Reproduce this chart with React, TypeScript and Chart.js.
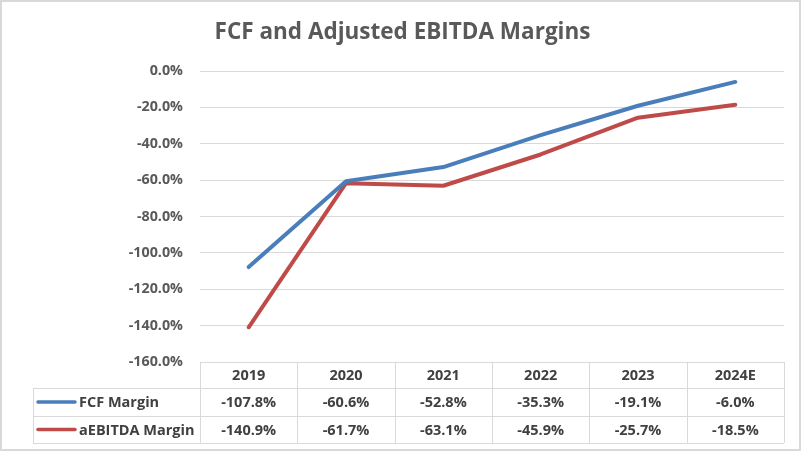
import React, { useEffect, useRef } from "react";
import { Chart, registerables } from "chart.js";

Chart.register(...registerables);

const categories = ["2019", "2020", "2021", "2022", "2023", "2024E"];
const fcfMargin = [-107.8, -60.6, -52.8, -35.3, -19.1, -6.0];
const ebitdaMargin = [-140.9, -61.7, -63.1, -45.9, -25.7, -18.5];
const seriesNames = ["FCF Margin", "aEBITDA Margin"];
const seriesColors = ["#4A7EBB", "#BE4B48"];
const titleText = "FCF and Adjusted EBITDA Margins";

const FONT = "'Open Sans', Lato, sans-serif";

const tablePlugin = {
  id: "dataTable",
  afterDraw(chart: any) {
    const ctx = chart.ctx;
    const area = chart.chartArea;
    const xs = chart.scales.x;
    const n = categories.length;
    const colW = (area.right - area.left) / n;
    const top = area.bottom;
    const r1 = top + 26;
    const r2 = r1 + 28;
    const r3 = r2 + 27;
    const legLeft = 33;
    ctx.save();
    ctx.strokeStyle = "#D9D9D9";
    ctx.lineWidth = 1;
    ctx.beginPath();
    ctx.moveTo(area.left, top + 0.5);
    ctx.lineTo(area.right, top + 0.5);
    [r1, r2, r3].forEach((y) => {
      ctx.moveTo(legLeft, Math.round(y) + 0.5);
      ctx.lineTo(area.right, Math.round(y) + 0.5);
    });
    for (let i = 0; i <= n; i++) {
      const x = Math.round(area.left + i * colW) + 0.5;
      ctx.moveTo(x, top);
      ctx.lineTo(x, r3);
    }
    ctx.moveTo(legLeft + 0.5, r1);
    ctx.lineTo(legLeft + 0.5, r3);
    ctx.stroke();

    ctx.fillStyle = "#404040";
    ctx.font = `bold 14.5px ${FONT}`;
    ctx.textAlign = "center";
    ctx.textBaseline = "middle";
    const rows = [fcfMargin, ebitdaMargin];
    categories.forEach((c, i) => {
      const cx = xs.getPixelForValue(i);
      ctx.fillText(c, cx, (top + r1) / 2 + 1);
      rows.forEach((arr, k) => {
        const y = k === 0 ? (r1 + r2) / 2 + 1 : (r2 + r3) / 2 + 1;
        ctx.fillText(arr[i].toFixed(1) + "%", cx, y);
      });
    });
    rows.forEach((_, k) => {
      const y = k === 0 ? (r1 + r2) / 2 : (r2 + r3) / 2;
      ctx.strokeStyle = seriesColors[k];
      ctx.lineWidth = 3.5;
      ctx.lineCap = "round";
      ctx.beginPath();
      ctx.moveTo(38, y);
      ctx.lineTo(75, y);
      ctx.stroke();
      ctx.textAlign = "left";
      ctx.fillStyle = "#404040";
      ctx.fillText(seriesNames[k], 79, y + 1);
    });
    ctx.restore();
  },
};

const borderPlugin = {
  id: "outerBorder",
  beforeDraw(chart: any) {
    const ctx = chart.ctx;
    ctx.save();
    ctx.fillStyle = "#FFFFFF";
    ctx.fillRect(0, 0, chart.width, chart.height);
    ctx.strokeStyle = "#D9D9D9";
    ctx.lineWidth = 2;
    ctx.strokeRect(1, 1, 799, 449);
    ctx.restore();
  },
};

export default function App() {
  const ref = useRef<HTMLCanvasElement>(null);
  useEffect(() => {
    document.body.style.margin = "0";
    const chart = new Chart(ref.current!, {
      type: "line",
      data: {
        labels: categories,
        datasets: [
          {
            label: seriesNames[0],
            data: fcfMargin,
            borderColor: seriesColors[0],
            backgroundColor: seriesColors[0],
            borderWidth: 4,
            pointRadius: 0,
            tension: 0,
            borderCapStyle: "round",
            borderJoinStyle: "round",
          },
          {
            label: seriesNames[1],
            data: ebitdaMargin,
            borderColor: seriesColors[1],
            backgroundColor: seriesColors[1],
            borderWidth: 4,
            pointRadius: 0,
            tension: 0,
            borderCapStyle: "round",
            borderJoinStyle: "round",
          },
        ],
      },
      options: {
        animation: false,
        responsive: false,
        layout: { padding: { left: 21, right: 21, top: 0, bottom: 91 } },
        plugins: {
          legend: { display: false },
          tooltip: { enabled: false },
          title: {
            display: true,
            text: titleText,
            color: "#595959",
            font: { family: FONT, size: 22.5, weight: "bold" },
            padding: { top: 19, bottom: 25 },
          },
        },
        scales: {
          x: {
            type: "category",
            display: false,
            offset: true,
          },
          y: {
            min: -160,
            max: 0,
            afterFit: (s: any) => {
              s.width = 179;
            },
            ticks: {
              stepSize: 20,
              padding: 17,
              color: "#595959",
              font: { family: FONT, size: 14.3, weight: "bold" },
              callback: (v: any) => Number(v).toFixed(1) + "%",
            },
            grid: { color: "#D9D9D9", drawTicks: false, lineWidth: 1 },
            border: { display: false },
          },
        },
      },
      plugins: [borderPlugin, tablePlugin],
    });
    return () => chart.destroy();
  }, []);
  return (
    <div style={{ width: 805, height: 453 }}>
      <canvas ref={ref} width={805} height={453} style={{ display: "block" }} />
    </div>
  );
}
